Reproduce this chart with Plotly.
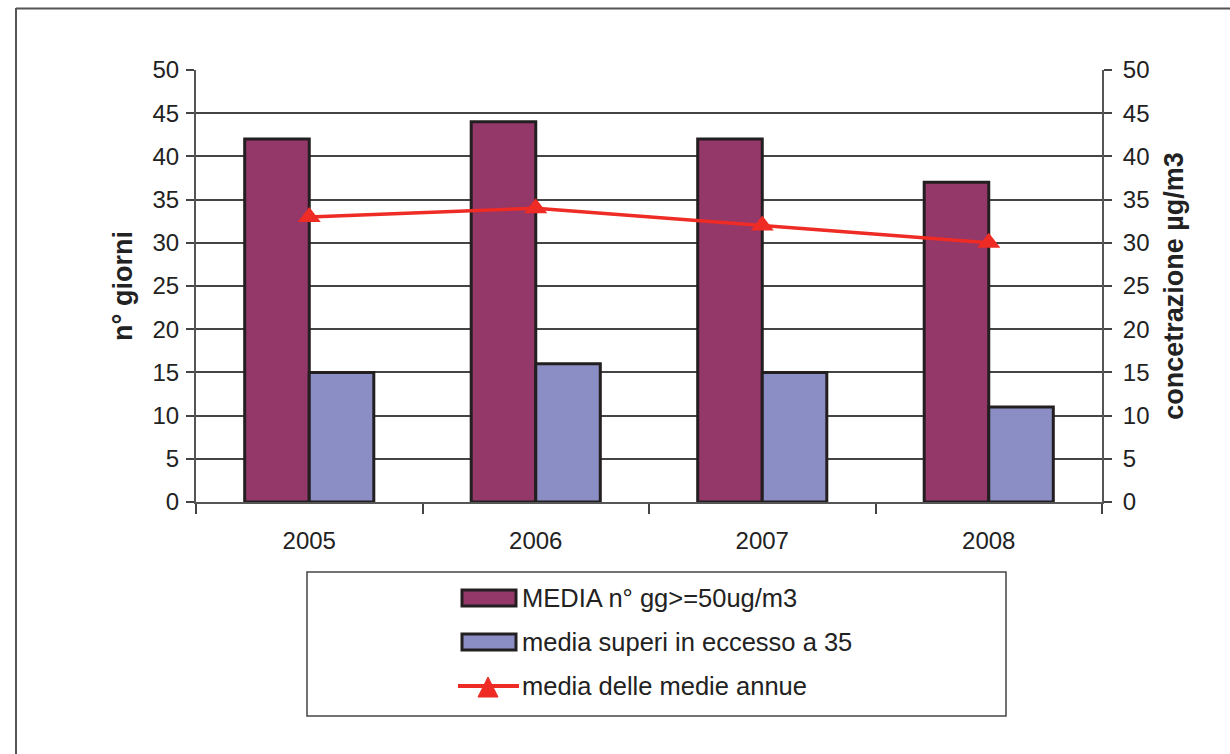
import plotly.graph_objects as go

# Data
years = ["2005", "2006", "2007", "2008"]
media_gg_50 = [42, 44, 42, 37]          # MEDIA n° gg>=50ug/m3
media_superi_35 = [15, 16, 15, 11]      # media superi in eccesso a 35
media_medie_annue = [33, 34, 32, 30]    # media delle medie annue
y_ticks = list(range(0, 51, 5))

legend_labels = [
    "MEDIA n° gg>=50ug/m3",
    "media superi in eccesso a 35",
    "media delle medie annue",
]

PURPLE = "#943769"
BLUE = "#8A8EC4"
RED = "#EE2B24"
EDGE = "#231F20"
FONT = "Liberation Sans, Arial, sans-serif"
TICK_SIZE = 24
TITLE_SIZE = 27
LEGEND_SIZE = 25.5

W, H = 1230, 754
ML, MR, MT, MB = 196, 128, 70, 252
PW, PH = W - ML - MR, H - MT - MB


def px(x):
    return (x - ML) / PW


def py(y):
    return (H - MB - y) / PH


fig = go.Figure()

fig.add_trace(go.Bar(
    x=years, y=media_gg_50, name=legend_labels[0],
    marker=dict(color=PURPLE, line=dict(color=EDGE, width=3)),
    showlegend=False,
))
fig.add_trace(go.Bar(
    x=years, y=media_superi_35, name=legend_labels[1],
    marker=dict(color=BLUE, line=dict(color=EDGE, width=3)),
    showlegend=False,
))
fig.add_trace(go.Scatter(
    x=years, y=media_medie_annue, name=legend_labels[2], yaxis="y2",
    mode="lines+markers",
    line=dict(color=RED, width=3.5),
    marker=dict(symbol="triangle-up", size=20, color=RED),
    showlegend=False,
))

axis_common = dict(
    range=[0, 50], tickvals=y_ticks, ticks="outside", ticklen=8,
    tickcolor="#444", tickwidth=1.5, showline=True, linecolor="#555",
    linewidth=2, tickfont=dict(family=FONT, size=TICK_SIZE, color="#222"),
    zeroline=False, fixedrange=True,
)

shapes = []
# outer frame (top and left edges visible)
shapes.append(dict(type="line", xref="paper", yref="paper",
                   x0=px(16), x1=px(1240), y0=py(8.5), y1=py(8.5),
                   line=dict(color="#555", width=2)))
shapes.append(dict(type="line", xref="paper", yref="paper",
                   x0=px(16), x1=px(16), y0=py(8), y1=py(760),
                   line=dict(color="#555", width=2)))
# legend box
shapes.append(dict(type="rect", xref="paper", yref="paper",
                   x0=px(307), x1=px(1006), y0=py(572), y1=py(716),
                   line=dict(color="#444", width=1.5), fillcolor="white"))
# legend swatches
rows = [598, 642, 686]
for color, yc in ((PURPLE, rows[0]), (BLUE, rows[1])):
    shapes.append(dict(type="rect", xref="paper", yref="paper",
                       x0=px(462), x1=px(516), y0=py(yc - 8), y1=py(yc + 8),
                       line=dict(color=EDGE, width=3), fillcolor=color))
shapes.append(dict(type="line", xref="paper", yref="paper",
                   x0=px(458), x1=px(519), y0=py(rows[2]), y1=py(rows[2]),
                   line=dict(color=RED, width=4)))
tx, ty = 488, rows[2] + 1
shapes.append(dict(type="path", xref="paper", yref="paper",
                   path=(f"M {px(tx - 10)} {py(ty + 10)} L {px(tx + 10)} {py(ty + 10)} "
                         f"L {px(tx)} {py(ty - 10)} Z"),
                   line=dict(color=RED, width=1), fillcolor=RED))

annotations = [
    dict(text=lbl, xref="paper", yref="paper", x=px(520), y=py(yc),
         xanchor="left", yanchor="middle", showarrow=False,
         font=dict(family=FONT, size=LEGEND_SIZE, color="#222"))
    for lbl, yc in zip(legend_labels, rows)
]

fig.update_layout(
    width=W, height=H,
    margin=dict(l=ML, r=MR, t=MT, b=MB, autoexpand=False),
    paper_bgcolor="white", plot_bgcolor="white",
    barmode="group", bargap=0.43, bargroupgap=0,
    font=dict(family=FONT, color="#222"),
    xaxis=dict(
        type="category", tickson="boundaries", ticks="outside", ticklen=10,
        tickcolor="#444", tickwidth=1.5, showline=True, linecolor="#555",
        linewidth=2, showgrid=False, fixedrange=True, ticklabelstandoff=16,
        tickfont=dict(family=FONT, size=TICK_SIZE, color="#222"),
    ),
    yaxis=dict(
        **axis_common, showgrid=True, gridcolor="#444", gridwidth=1.5,
        ticklabelstandoff=2,
        title=dict(text="<b>n° giorni</b>", standoff=12,
                   font=dict(family=FONT, size=TITLE_SIZE, color="#222")),
    ),
    yaxis2=dict(
        **axis_common, overlaying="y", side="right", showgrid=False,
        ticklabelstandoff=6,
        title=dict(text="<b>concetrazione µg/m3</b>", standoff=16,
                   font=dict(family=FONT, size=TITLE_SIZE, color="#222")),
    ),
    shapes=shapes,
    annotations=annotations,
    showlegend=False,
)

fig.write_html("out.html")
